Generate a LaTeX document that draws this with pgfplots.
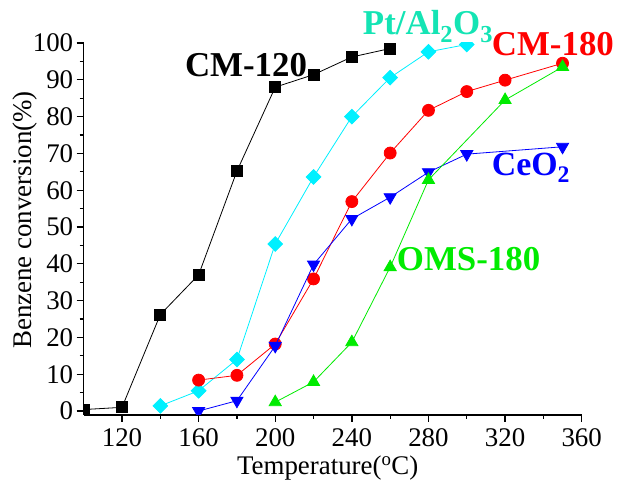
\documentclass[border=0pt]{standalone}
\usepackage{pgfplots}
\pgfplotsset{compat=1.18}
\usepackage{fontspec}
\setmainfont{Liberation Serif}
\definecolor{aqua}{RGB}{20,228,180}
\definecolor{lgreen}{RGB}{0,235,0}
\definecolor{pcyan}{RGB}{0,240,255}
\begin{document}
\begin{tikzpicture}
\begin{axis}[
  scale only axis,
  width=498bp, height=371.7bp,
  xmin=100, xmax=360, ymin=-1, ymax=100,
  axis x line*=bottom, axis y line*=left,
  axis line style={line width=1.6bp},
  xtick={120,160,...,360},
  ytick={0,10,...,100},
  minor x tick num=1, minor y tick num=1,
  tick align=outside,
  major tick length=7bp, minor tick length=4bp,
  every tick/.style={line width=1.3bp, black},
  tick label style={font=\fontsize{27}{30}\selectfont},
  xticklabel style={yshift=-3bp},
  /pgf/number format/assume math mode=true,
  clip mode=individual,
  clip marker paths=true,
  xlabel={Temperature(\textsuperscript{o}C)},
  ylabel={Benzene conversion(\%)},
  label style={font=\fontsize{27}{30}\selectfont},
  xlabel style={at={(axis description cs:0.49,-0.162)}, anchor=base},
  ylabel style={at={(axis description cs:-0.118,0.524)}, anchor=center},
  every axis plot/.append style={line width=0.8bp},
]
\addplot[black, mark=square*, mark size=5.5bp] coordinates {
(100,0.4) (120,1.0) (140,26.2) (160,37) (180,65.2) (200,88) (220,91.4) (240,96.2) (260,98.5)};
\addplot[pcyan, mark=square*, mark size=5.2bp, mark options={rotate=45}] coordinates {
(140,1.4) (160,5.5) (180,14) (200,45.4) (220,63.6) (240,80) (260,90.6) (280,97.6) (300,99.6)};
\addplot[red, mark=*, mark size=6bp] coordinates {
(160,8.4) (180,9.7) (200,18.2) (220,35.9) (240,56.9) (260,70.1) (280,81.7) (300,86.8) (320,89.9) (350,94.5)};
\addplot[blue, mark=triangle*, mark size=7bp, mark options={rotate=180}] coordinates {
(160,0) (180,2.8) (200,17.7) (220,39.8) (240,52.2) (260,58.1) (280,64.9) (300,69.8) (350,71.8)};
\addplot[lgreen, mark=triangle*, mark size=7bp] coordinates {
(200,2.4) (220,7.9) (240,18.7) (260,39.1) (280,62.8) (320,84.5) (350,93.5)};
\node[anchor=base west, inner sep=0, font=\bfseries\fontsize{35}{40}\selectfont, black] at (axis cs:152.8,90.8) {CM-120};
\node[anchor=base west, inner sep=0, font=\bfseries\fontsize{35}{40}\selectfont, aqua] at (axis cs:245.7,102.2) {Pt/Al\textsubscript{2}O\textsubscript{3}};
\node[anchor=base west, inner sep=0, font=\bfseries\fontsize{35}{40}\selectfont, red] at (axis cs:313.0,96.7) {CM-180};
\node[anchor=base west, inner sep=0, font=\bfseries\fontsize{34}{40}\selectfont, blue] at (axis cs:313.0,64.1) {CeO\textsubscript{2}};
\node[anchor=base west, inner sep=0, font=\bfseries\fontsize{35}{40}\selectfont, lgreen] at (axis cs:263.4,38.3) {OMS-180};
\end{axis}
\pgfresetboundingbox
\path[use as bounding box] (-83.7bp,-68.3bp) rectangle (535.3bp,414.7bp);
\end{tikzpicture}
\end{document}
